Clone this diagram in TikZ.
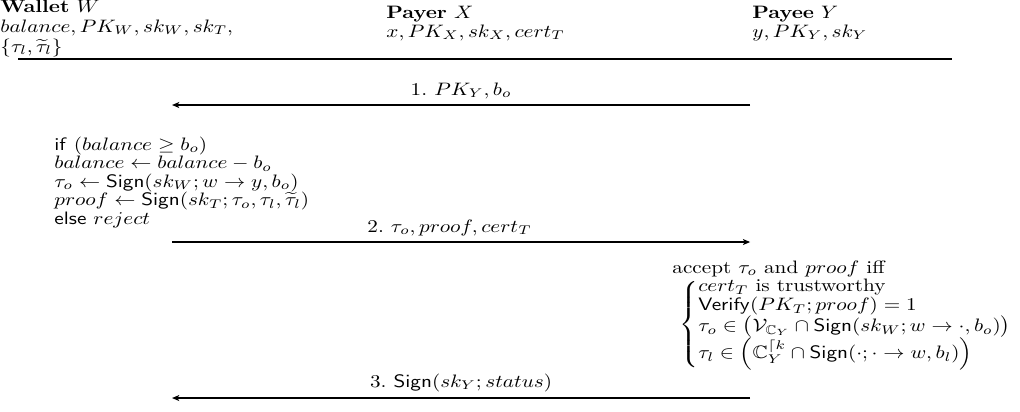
\documentclass[tikz,border=0pt]{standalone}
\usepackage{amsmath,amssymb}
\usetikzlibrary{arrows.meta}
\begin{document}
\begin{tikzpicture}[
  x=0.4717pt, y=-0.5556pt, xscale=1.1778,
  every node/.style={transform shape, inner sep=0pt},
  txt/.style={anchor=base west},
  msg/.style={line width=0.6pt, -{Stealth[length=4pt,width=3.3pt,inset=1pt]}},
  msglbl/.style={above, inner sep=3.3pt},
  rule/.style={line width=0.6pt}
]
\useasboundingbox (0,0) rectangle (1020,411);

% parties and their key material
\node[txt] (w1) at (0,12) {\textbf{Wallet} $W$};
\node[txt] (w2) at (0,32) {$balance, PK_W, sk_W, sk_T,$};
\node[txt] (w3) at (0,52) {$\{\tau_l, \widetilde{\tau}_l\}$};
\node[txt] (p1) at (386,18) {\textbf{Payer} $X$};
\node[txt] (p2) at (386,37) {$x, PK_X, sk_X, cert_T$};
\node[txt] (q1) at (752,18) {\textbf{Payee} $Y$};
\node[txt] (q2) at (752,37) {$y, PK_Y, sk_Y$};
\coordinate (hl) at (18,59);
\coordinate (hr) at (952,59);
\draw[rule] (hl) -- (hr);

% message endpoints
\coordinate (W1) at (172,105);
\coordinate (Y1) at (750,105);
\coordinate (W2) at (172,242);
\coordinate (Y2) at (750,242);
\coordinate (W3) at (172,398);
\coordinate (Y3) at (750,398);

\draw[msg] (Y1) -- node[msglbl] (m1) {1.\ $PK_Y, b_o$} (W1);

% wallet-side computation
\node[txt] (c1) at (54,150) {\textsf{if} $(balance \geq b_o)$};
\node[txt] (c2) at (54,168.5) {$balance \leftarrow balance - b_o$};
\node[txt] (c3) at (54,187) {$\tau_o \leftarrow \mathsf{Sign}(sk_W; w \rightarrow y, b_o)$};
\node[txt] (c4) at (54,205.5) {$proof \leftarrow \mathsf{Sign}(sk_T; \tau_o, \tau_l, \widetilde{\tau}_l)$};
\node[txt] (c5) at (54,224) {\textsf{else} $reject$};

\draw[msg] (W2) -- node[msglbl, pos=0.48] (m2) {2.\ $\tau_o, proof, cert_T$} (Y2);

% payee-side checks
\node[txt] (a0) at (672,273) {accept $\tau_o$ and $proof$ iff};
\node[txt] (a1) at (679,329) {$\renewcommand{\arraystretch}{0.84}\left\{\begin{array}{@{}l@{}}
  cert_T \text{ is trustworthy}\\
  \mathsf{Verify}(PK_T; proof) = 1\\
  \tau_o \in \big(\mathcal{V}_{\mathbb{C}_Y} \cap \mathsf{Sign}(sk_W; w \rightarrow \cdot, b_o)\big)\\
  \tau_l \in \Big(\mathbb{C}_Y^{\lceil k} \cap \mathsf{Sign}(\cdot; \cdot \rightarrow w, b_l)\Big)
\end{array}\right.$};

\draw[msg] (Y3) -- node[msglbl] (m3) {3.\ $\mathsf{Sign}(sk_Y; status)$} (W3);
\end{tikzpicture}
\end{document}
